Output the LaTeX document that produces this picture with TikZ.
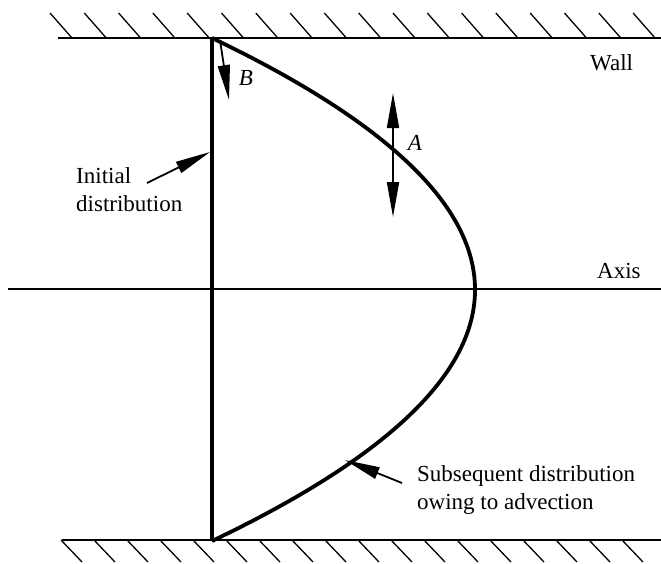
\documentclass[tikz,border=0pt]{standalone}
\usepackage{fontspec}
\setmainfont{Liberation Serif}
\usepackage{tikz}
\usetikzlibrary{arrows.meta,positioning}

\begin{document}
\begin{tikzpicture}[
    x=1pt, y=-1pt,
    font=\fontsize{23}{28}\selectfont,
    wall/.style={line width=2.4pt},
    hatch/.style={line width=1.3pt},
    axisline/.style={line width=1.6pt},
    profile/.style={line width=3.8pt},
    pointer/.style={-{Triangle[length=35pt,width=12pt]}, line width=1.8pt},
    note/.style={inner sep=0pt, align=left, anchor=north west}
]
    \useasboundingbox (0,0) rectangle (661,563);

    % walls and hatching
    \draw[wall] (58,38) -- (661,38);
    \draw[wall] (62,540) -- (661,540);
    \foreach \k in {0,...,17}
        \draw[hatch] ({50+34.3*\k},13) -- ++(22,25);
    \foreach \k in {0,...,17}
        \draw[hatch] ({61+33*\k},540) -- ++(21,22);

    % axis
    \draw[axisline] (8,289) -- (661,289);

    % distributions
    \coordinate (topfoot) at (212,38);
    \coordinate (botfoot) at (212,541);
    \draw[profile] (topfoot) -- (botfoot);
    \draw[profile] (topfoot) .. controls (562.7,206) and (562.7,373.7) .. (botfoot);

    % labels
    \node[note] (wall) at (590,54) {Wall};
    \node[inner sep=0pt, anchor=base west] (axis) at (597,278) {Axis};
    \node[note] (init) at (76,167) {Initial\\distribution};
    \node[note] (subs) at (417,465) {Subsequent distribution\\owing to advection};
    \node[inner sep=0pt] (blab) at (246,78) {\textit{B}};
    \node[inner sep=0pt] (alab) at (415,143) {\textit{A}};

    % arrows
    \coordinate (inittail) at (147,183);
    \coordinate (inittip) at (210,152);
    \coordinate (substail) at (402,483);
    \coordinate (substip) at (345,460);
    \coordinate (bstart) at (220,40);
    \coordinate (btip) at (229,100);
    \coordinate (apoint) at (393,152);
    \coordinate (aup) at (393,93);
    \coordinate (adown) at (393,217);

    \draw[pointer] (inittail) -- (inittip);
    \draw[pointer] (substail) -- (substip);
    \draw[pointer] (bstart) -- (btip);
    \draw[pointer] (apoint) -- (aup);
    \draw[pointer] (apoint) -- (adown);
\end{tikzpicture}
\end{document}
